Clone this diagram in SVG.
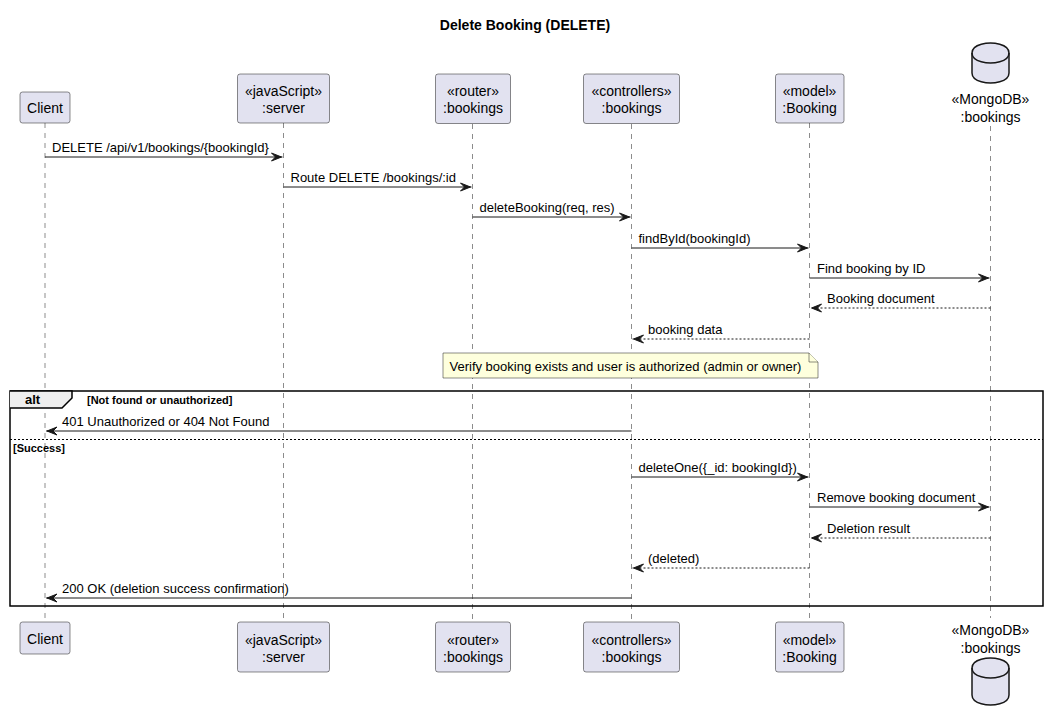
<svg xmlns="http://www.w3.org/2000/svg" width="1048" height="720" viewBox="0 0 1048 720">
<style>
text{font-family:"Liberation Sans",Arial,sans-serif;fill:#000}
.title{font-size:14px;font-weight:bold}
.p{font-size:14px}
.m{font-size:13px}
.box{fill:#E2E2F0;stroke:#181818;stroke-width:0.5}
.life{stroke:#181818;stroke-width:0.5;stroke-dasharray:5,5;fill:none}
.msg{stroke:#181818;stroke-width:1;fill:none}
.ret{stroke:#181818;stroke-width:1;fill:none;stroke-dasharray:2,2}
.head{fill:#181818;stroke:#181818;stroke-width:1}
.frame{fill:none;stroke:#000;stroke-width:1.5}
.fb{font-size:13px;font-weight:bold}
.gb{font-size:11px;font-weight:bold}
</style>
<rect width="1048" height="720" fill="#FFFFFF"/>
<text class="title" x="525" y="30" text-anchor="middle">Delete Booking (DELETE)</text>

<g id="lifelines">
<line class="life" x1="45" y1="123" x2="45" y2="622"/>
<line class="life" x1="283.5" y1="123" x2="283.5" y2="622"/>
<line class="life" x1="472.5" y1="124" x2="472.5" y2="622"/>
<line class="life" x1="631.5" y1="124" x2="631.5" y2="622"/>
<line class="life" x1="809.5" y1="123" x2="809.5" y2="622"/>
<line class="life" x1="990.5" y1="126" x2="990.5" y2="618"/>
</g>

<g id="client">
<rect class="box" x="20" y="92" width="50" height="31" rx="2.5"/>
<text class="p" x="45" y="113" text-anchor="middle">Client</text>
<rect class="box" x="20" y="622" width="50" height="32" rx="2.5"/>
<text class="p" x="45" y="644" text-anchor="middle">Client</text>
</g>
<g id="server">
<rect class="box" x="237.5" y="74" width="92" height="49" rx="2.5"/>
<text class="p" x="283.5" y="96" text-anchor="middle">«javaScript»</text>
<text class="p" x="283.5" y="113" text-anchor="middle">:server</text>
<rect class="box" x="237.5" y="622" width="92" height="50" rx="2.5"/>
<text class="p" x="283.5" y="644.5" text-anchor="middle">«javaScript»</text>
<text class="p" x="283.5" y="661.5" text-anchor="middle">:server</text>
</g>
<g id="router">
<rect class="box" x="435.5" y="74" width="75" height="49.5" rx="2.5"/>
<text class="p" x="473" y="96" text-anchor="middle">«router»</text>
<text class="p" x="473" y="113" text-anchor="middle">:bookings</text>
<rect class="box" x="435.5" y="622" width="75" height="50" rx="2.5"/>
<text class="p" x="473" y="644.5" text-anchor="middle">«router»</text>
<text class="p" x="473" y="661.5" text-anchor="middle">:bookings</text>
</g>
<g id="controllers">
<rect class="box" x="583.5" y="74" width="96" height="49.5" rx="2.5"/>
<text class="p" x="631.5" y="96" text-anchor="middle">«controllers»</text>
<text class="p" x="631.5" y="113" text-anchor="middle">:bookings</text>
<rect class="box" x="583.5" y="622" width="96" height="50" rx="2.5"/>
<text class="p" x="631.5" y="644.5" text-anchor="middle">«controllers»</text>
<text class="p" x="631.5" y="661.5" text-anchor="middle">:bookings</text>
</g>
<g id="model">
<rect class="box" x="775.5" y="74" width="68.5" height="49" rx="2.5"/>
<text class="p" x="809.5" y="96" text-anchor="middle">«model»</text>
<text class="p" x="809.5" y="113" text-anchor="middle">:Booking</text>
<rect class="box" x="775.5" y="622" width="68.5" height="50" rx="2.5"/>
<text class="p" x="809.5" y="644.5" text-anchor="middle">«model»</text>
<text class="p" x="809.5" y="661.5" text-anchor="middle">:Booking</text>
</g>
<g id="mongodb">
<path fill="#E2E2F0" stroke="#181818" stroke-width="1.5" d="M972,53 C972,43 990.5,43 990.5,43 C990.5,43 1009,43 1009,53 L1009,73 C1009,83 990.5,83 990.5,83 C990.5,83 972,83 972,73 Z"/>
<path fill="none" stroke="#181818" stroke-width="1.5" d="M972,53 C972,63 990.5,63 990.5,63 C990.5,63 1009,63 1009,53"/>
<text class="p" x="990.5" y="104" text-anchor="middle">«MongoDB»</text>
<text class="p" x="990.5" y="121.5" text-anchor="middle">:bookings</text>
<text class="p" x="990.5" y="635" text-anchor="middle">«MongoDB»</text>
<text class="p" x="990.5" y="653" text-anchor="middle">:bookings</text>
<path fill="#E2E2F0" stroke="#181818" stroke-width="1.5" d="M972,668 C972,658 990.5,658 990.5,658 C990.5,658 1009,658 1009,668 L1009,695 C1009,705 990.5,705 990.5,705 C990.5,705 972,705 972,695 Z"/>
<path fill="none" stroke="#181818" stroke-width="1.5" d="M972,668 C972,678 990.5,678 990.5,678 C990.5,678 1009,678 1009,668"/>
</g>

<g id="note">
<path d="M443,353 L809,353 L818,362 L818,378 L443,378 Z" fill="#FEFFDD" stroke="#181818" stroke-width="0.5"/>
<path d="M809,353 L809,362 L818,362" fill="#FEFFDD" stroke="#181818" stroke-width="0.5"/>
<text class="m" x="449.5" y="370.5">Verify booking exists and user is authorized (admin or owner)</text>
</g>

<g id="alt">
<rect class="frame" x="10" y="391" width="1033" height="215"/>
<path d="M10,391 L72,391 L72,398 L62,408 L10,408" fill="#EEEEEE" stroke="#000" stroke-width="1.5"/>
<text class="fb" x="25" y="404">alt</text>
<text class="gb" x="87" y="403.5">[Not found or unauthorized]</text>
<line x1="10" y1="439.5" x2="1043" y2="439.5" stroke="#000" stroke-width="1" stroke-dasharray="2,2"/>
<text class="gb" x="13" y="451.5">[Success]</text>
</g>

<g id="connectors">
<line class="msg" x1="45" y1="157" x2="282.5" y2="157"/>
<polygon class="head" points="271.5,153 281.5,157 271.5,161 275.5,157"/>
<text class="m" x="52" y="152">DELETE /api/v1/bookings/{bookingId}</text>

<line class="msg" x1="283.5" y1="187" x2="471.5" y2="187"/>
<polygon class="head" points="460.5,183 470.5,187 460.5,191 464.5,187"/>
<text class="m" x="290.5" y="182">Route DELETE /bookings/:id</text>

<line class="msg" x1="472.5" y1="217" x2="630.5" y2="217"/>
<polygon class="head" points="619.5,213 629.5,217 619.5,221 623.5,217"/>
<text class="m" x="479.5" y="212">deleteBooking(req, res)</text>

<line class="msg" x1="631.5" y1="248" x2="808.5" y2="248"/>
<polygon class="head" points="797.5,244 807.5,248 797.5,252 801.5,248"/>
<text class="m" x="638.5" y="243">findById(bookingId)</text>

<line class="msg" x1="809.5" y1="278" x2="989.5" y2="278"/>
<polygon class="head" points="978.5,274 988.5,278 978.5,282 982.5,278"/>
<text class="m" x="817" y="273">Find booking by ID</text>

<line class="ret" x1="990.5" y1="308" x2="810.5" y2="308"/>
<polygon class="head" points="821.5,304 811.5,308 821.5,312 817.5,308"/>
<text class="m" x="827" y="303">Booking document</text>

<line class="ret" x1="809.5" y1="339" x2="632.5" y2="339"/>
<polygon class="head" points="643.5,335 633.5,339 643.5,343 639.5,339"/>
<text class="m" x="648" y="334">booking data</text>

<line class="msg" x1="631.5" y1="431" x2="46" y2="431"/>
<polygon class="head" points="57,427 47,431 57,435 53,431"/>
<text class="m" x="62" y="426">401 Unauthorized or 404 Not Found</text>

<line class="msg" x1="631.5" y1="477" x2="808.5" y2="477"/>
<polygon class="head" points="797.5,473 807.5,477 797.5,481 801.5,477"/>
<text class="m" x="638.5" y="472">deleteOne({_id: bookingId})</text>

<line class="msg" x1="809.5" y1="507" x2="989.5" y2="507"/>
<polygon class="head" points="978.5,503 988.5,507 978.5,511 982.5,507"/>
<text class="m" x="817" y="502">Remove booking document</text>

<line class="ret" x1="990.5" y1="538" x2="810.5" y2="538"/>
<polygon class="head" points="821.5,534 811.5,538 821.5,542 817.5,538"/>
<text class="m" x="827" y="533">Deletion result</text>

<line class="ret" x1="809.5" y1="568" x2="632.5" y2="568"/>
<polygon class="head" points="643.5,564 633.5,568 643.5,572 639.5,568"/>
<text class="m" x="648" y="563">(deleted)</text>

<line class="msg" x1="631.5" y1="598" x2="46" y2="598"/>
<polygon class="head" points="57,594 47,598 57,602 53,598"/>
<text class="m" x="62" y="593">200 OK (deletion success confirmation)</text>
</g>
</svg>
